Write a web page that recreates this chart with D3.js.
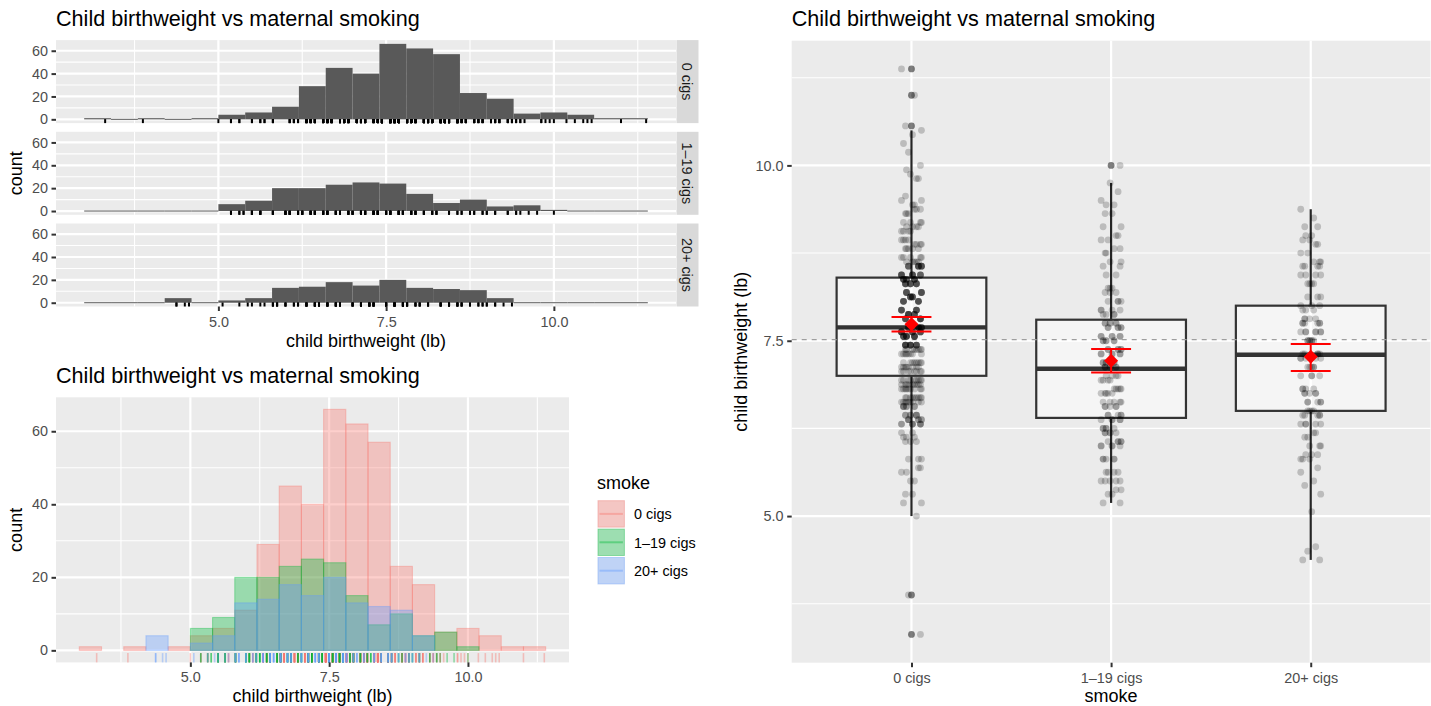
<!DOCTYPE html>
<html>
<head>
<meta charset="utf-8">
<script src="https://cdn.jsdelivr.net/npm/d3@7"></script>
<style>
  body { margin: 0; background: #fff; }
  svg text { font-family: "Liberation Sans", Arial, Helvetica, sans-serif; }
</style>
</head>
<body>
<svg id="chart" width="1431" height="706"></svg>
<script>
// ---- data ----
var groups = ["0 cigs", "1\u201319 cigs", "20+ cigs"];
var groupColors = ["#F8766D", "#00BA38", "#619CFF"];

// histogram bins: 3.0 .. 11.4 lb, width 0.4 (right closed)
var binStart = 3.0, binWidth = 0.4;
var countsNone  = [1, 0, 1, 0, 1, 4, 6, 11, 29, 45, 40, 66, 62, 57, 23, 18, 5, 6, 4, 1, 1];
var countsLight = [0, 0, 0, 0, 0, 6, 9, 20, 20, 23, 25, 24, 15, 7, 10, 4, 5, 1, 0, 0, 0];
var countsHeavy = [0, 0, 0, 4, 0, 2, 4, 13, 14, 18, 15, 20, 13, 12, 11, 4, 0, 0, 0, 0, 0];

// distinct birthweights (ounces) seen in the rugs
var rugNone = [53, 62, 80, 83, 85, 88, 90, 91, 93, 97, 98, 99, 101, 102, 103, 105, 106, 107,
  109, 110, 111, 113, 114, 115, 117, 118, 119, 121, 122, 123, 125, 126, 127, 129, 130, 131,
  133, 134, 135, 137, 138, 139, 141, 142, 143, 145, 146, 147, 149, 150, 151, 152, 153,
  157, 158, 159, 160, 163, 165, 167, 168, 169, 176, 182];
var rugLight = [83, 85, 86, 88, 90, 93, 96, 97, 99, 100, 102, 103, 105, 106, 108, 109, 111,
  112, 114, 115, 117, 118, 120, 121, 123, 124, 126, 127, 129, 131, 132, 135, 137, 138, 140,
  141, 143, 144, 146, 149, 151, 152, 154, 156, 160];
var rugHeavy = [70, 72, 73, 81, 85, 87, 88, 90, 91, 93, 94, 96, 98, 99, 101, 103, 104, 106,
  108, 109, 112, 114, 116, 117, 120, 122, 124, 125, 127, 128, 130, 133, 135, 137, 138, 140,
  142, 143, 144, 146, 148, 150];

// boxplot + mean summaries (lb)
var boxLower  = [5.0, 5.1875, 4.375];
var boxQ1     = [7.0, 6.4, 6.5];
var boxMedian = [7.69, 7.1, 7.3];
var boxQ3     = [8.4, 7.8, 8.0];
var boxUpper  = [10.5, 9.75, 9.375];
var meanValue = [7.735, 7.213, 7.27];
var meanLow   = [7.63, 7.047, 7.07];
var meanHigh  = [7.84, 7.381, 7.453];
var grandMean = 7.516;

var xMajor = [5, 7.5, 10], xMinor = [3.75, 6.25, 8.75, 11.25];
var countMajor = [0, 20, 40, 60], countMinor = [10, 30, 50];
var wtMajor = [5, 7.5, 10], wtMinor = [3.75, 6.25, 8.75, 11.25];

var title = "Child birthweight vs maternal smoking";
var xTitle = "child birthweight (lb)";

// ---- helpers ----
var svg = d3.select("#chart");
var FONT = '"Liberation Sans", Arial, Helvetica, sans-serif';

function expandPoints(rugOz, counts) {
	// spread each bin's count over the distinct values that fall in it
	var pts = [];
	counts.forEach(function(c, i) {
		var lo = (binStart + i * binWidth) * 16, hi = lo + binWidth * 16;
		var vals = rugOz.filter(function(o) { return o > lo + 1e-6 && o <= hi + 1e-6; });
		for (var k = 0; k < c; k++) pts.push(vals[k % vals.length] / 16);
	});
	return pts;
}

function panel(g, x0, x1, y0, y1) {
	g.append("rect")
		.attr("x", x0).attr("y", y0)
		.attr("width", x1 - x0).attr("height", y1 - y0)
		.attr("fill", "#EBEBEB");
}

function vGrid(g, xs, vals, w, y0, y1) {
	vals.forEach(function(v) {
		g.append("line")
			.attr("x1", xs(v)).attr("x2", xs(v))
			.attr("y1", y0).attr("y2", y1)
			.attr("stroke", "#fff").attr("stroke-width", w);
	});
}

function hGrid(g, ys, vals, w, x0, x1) {
	vals.forEach(function(v) {
		g.append("line")
			.attr("x1", x0).attr("x2", x1)
			.attr("y1", ys(v)).attr("y2", ys(v))
			.attr("stroke", "#fff").attr("stroke-width", w);
	});
}

function styleAxis(a) {
	a.attr("font-family", FONT).attr("font-size", 14.4);
	a.select(".domain").remove();
	a.selectAll(".tick line").attr("stroke", "#333333").attr("stroke-width", 2);
	a.selectAll(".tick text").attr("fill", "#4D4D4D");
}

function label(str, x, y, size, opts) {
	opts = opts || {};
	var t = svg.append("text")
		.attr("x", x).attr("y", y)
		.attr("font-size", size)
		.attr("fill", opts.fill || "#000")
		.attr("text-anchor", opts.anchor || "start")
		.text(str);
	if (opts.rotate) t.attr("transform", "rotate(" + opts.rotate + "," + x + "," + y + ")");
	return t;
}

var counts = [countsNone, countsLight, countsHeavy];
var rugs = [rugNone, rugLight, rugHeavy];
var groupPoints = counts.map(function(c, i) { return expandPoints(rugs[i], c); });

var xLo = binStart, xHi = binStart + countsNone.length * binWidth;
var xPad = (xHi - xLo) * 0.05;
var cMax = d3.max(counts, function(c) { return d3.max(c); });
var cPad = cMax * 0.05;

// ---- top left: faceted histograms ----
var tL = 56, tR = 676, facetH = 83;
var facetTops = [40.1, 131.8, 223.5];
var topX = d3.scaleLinear().domain([xLo - xPad, xHi + xPad]).range([tL, tR]);
var facetPlot = svg.append("g");

facetTops.forEach(function(ft, i) {
	var fb = ft + facetH;
	var fy = d3.scaleLinear().domain([-cPad, cMax + cPad]).range([fb, ft]);
	panel(facetPlot, tL, tR, ft, fb);
	hGrid(facetPlot, fy, countMinor, 1.1, tL, tR);
	vGrid(facetPlot, topX, xMinor, 1.1, ft, fb);
	hGrid(facetPlot, fy, countMajor, 2.2, tL, tR);
	vGrid(facetPlot, topX, xMajor, 2.2, ft, fb);

	var bw = topX(binWidth) - topX(0);
	facetPlot.append("g").selectAll("rect")
		.data(counts[i])
		.enter().append("rect")
		.attr("x", function(d, j) { return topX(binStart + j * binWidth); })
		.attr("width", bw)
		.attr("y", function(d) { return Math.min(fy(d), fy(0) - 0.5); })
		.attr("height", function(d) { return Math.max(fy(0) - fy(d), 1); })
		.attr("fill", "#595959");

	facetPlot.append("g").selectAll("line")
		.data(groupPoints[i])
		.enter().append("line")
		.attr("x1", function(d) { return topX(d); })
		.attr("x2", function(d) { return topX(d); })
		.attr("y1", fb).attr("y2", fb - 4)
		.attr("stroke", "#000").attr("stroke-width", 2);

	// strip
	facetPlot.append("rect")
		.attr("x", 676.5).attr("y", ft)
		.attr("width", 22).attr("height", facetH)
		.attr("fill", "#D9D9D9");
	label(groups[i], 682.3, ft + facetH / 2, 14.4, { anchor: "middle", rotate: 90, fill: "#1A1A1A" });

	var ya = facetPlot.append("g")
		.attr("transform", "translate(" + tL + ",0)")
		.call(d3.axisLeft(fy).tickValues(countMajor).tickSize(4.5).tickPadding(3.6).tickFormat(d3.format("d")));
	styleAxis(ya);

	if (i == facetTops.length - 1) {
		var xa = facetPlot.append("g")
			.attr("transform", "translate(0," + fb + ")")
			.call(d3.axisBottom(topX).tickValues(xMajor).tickSize(4.5).tickPadding(5.3).tickFormat(d3.format(".1f")));
		styleAxis(xa);
	}
});
label(title, tL, 25.5, 21.6);
label(xTitle, (tL + tR) / 2, 346.5, 18, { anchor: "middle" });
label("count", 22.5, (facetTops[0] + facetTops[2] + facetH) / 2, 18, { anchor: "middle", rotate: -90 });

// ---- bottom left: overlapping histograms ----
var bL = 56, bR = 569, bT = 397.3, bB = 662.4;
var botX = d3.scaleLinear().domain([xLo - xPad, xHi + xPad]).range([bL, bR]);
var botY = d3.scaleLinear().domain([-cPad, cMax + cPad]).range([bB, bT]);
var bot = svg.append("g");
panel(bot, bL, bR, bT, bB);
hGrid(bot, botY, countMinor, 1.1, bL, bR);
vGrid(bot, botX, xMinor, 1.1, bT, bB);
hGrid(bot, botY, countMajor, 2.2, bL, bR);
vGrid(bot, botX, xMajor, 2.2, bT, bB);

counts.forEach(function(c, i) {
	var bw = botX(binWidth) - botX(0);
	bot.append("g").selectAll("rect")
		.data(c)
		.enter().append("rect")
		.attr("x", function(d, j) { return botX(binStart + j * binWidth); })
		.attr("width", bw)
		.attr("y", function(d) { return botY(d); })
		.attr("height", function(d) { return botY(0) - botY(d); })
		.attr("fill", groupColors[i]).attr("fill-opacity", 0.35)
		.attr("stroke", groupColors[i]).attr("stroke-opacity", 0.35)
		.attr("stroke-width", 1.1);
});
counts.forEach(function(c, i) {
	bot.append("g").selectAll("line")
		.data(groupPoints[i])
		.enter().append("line")
		.attr("x1", function(d) { return botX(d); })
		.attr("x2", function(d) { return botX(d); })
		.attr("y1", bB).attr("y2", bB - 9.3)
		.attr("stroke", groupColors[i]).attr("stroke-opacity", 0.4)
		.attr("stroke-width", 1.6);
});

var bya = bot.append("g")
	.attr("transform", "translate(" + bL + ",0)")
	.call(d3.axisLeft(botY).tickValues(countMajor).tickSize(4.5).tickPadding(3.6).tickFormat(d3.format("d")));
styleAxis(bya);
var bxa = bot.append("g")
	.attr("transform", "translate(0," + bB + ")")
	.call(d3.axisBottom(botX).tickValues(xMajor).tickSize(4.5).tickPadding(5.3).tickFormat(d3.format(".1f")));
styleAxis(bxa);
label(title, bL, 382.7, 21.6);
label(xTitle, (bL + bR) / 2, 701.5, 18, { anchor: "middle" });
label("count", 22.5, (bT + bB) / 2, 18, { anchor: "middle", rotate: -90 });

// legend
label("smoke", 597, 489, 18);
var keySize = 28.4, keyTop = 500.2, keyX = 597.5;
groups.forEach(function(name, i) {
	var ky = keyTop + i * keySize;
	bot.append("rect")
		.attr("x", keyX).attr("y", ky)
		.attr("width", keySize - 1).attr("height", keySize - 1)
		.attr("fill", "#F2F2F2");
	bot.append("rect")
		.attr("x", keyX + 0.5).attr("y", ky + 0.5)
		.attr("width", keySize - 2).attr("height", keySize - 2)
		.attr("fill", groupColors[i]).attr("fill-opacity", 0.35)
		.attr("stroke", groupColors[i]).attr("stroke-opacity", 0.35);
	bot.append("line")
		.attr("x1", keyX + 2).attr("x2", keyX + keySize - 3)
		.attr("y1", ky + keySize / 2 - 0.5).attr("y2", ky + keySize / 2 - 0.5)
		.attr("stroke", groupColors[i]).attr("stroke-opacity", 0.4)
		.attr("stroke-width", 2);
	label(name, 634, ky + keySize / 2 + 4.7, 14.4, { fill: "#000" });
});

// ---- right: boxplots with jitter ----
var rL = 791.7, rR = 1430.5, rT = 40.7, rB = 662.7;
var allPts = [].concat.apply([], groupPoints);
var wLo = d3.min(allPts), wHi = d3.max(allPts), wPad = (wHi - wLo) * 0.05;
var rX = d3.scalePoint().domain(groups).range([rL, rR]).padding(0.6);
var rY = d3.scaleLinear().domain([wLo - wPad, wHi + wPad]).range([rB, rT]);
var step = rX.step();
var boxPlot = svg.append("g");
panel(boxPlot, rL, rR, rT, rB);
hGrid(boxPlot, rY, wtMinor, 1.1, rL, rR);
hGrid(boxPlot, rY, wtMajor, 2.2, rL, rR);
groups.forEach(function(name) {
	boxPlot.append("line")
		.attr("x1", rX(name)).attr("x2", rX(name)).attr("y1", rT).attr("y2", rB)
		.attr("stroke", "#fff").attr("stroke-width", 2.2);
});

var boxW = 0.75 * step;
groups.forEach(function(name, i) {
	var cx = rX(name);
	boxPlot.append("line")
		.attr("x1", cx).attr("x2", cx)
		.attr("y1", rY(boxUpper[i])).attr("y2", rY(boxQ3[i]))
		.attr("stroke", "#262626").attr("stroke-width", 2.2);
	boxPlot.append("line")
		.attr("x1", cx).attr("x2", cx)
		.attr("y1", rY(boxQ1[i])).attr("y2", rY(boxLower[i]))
		.attr("stroke", "#262626").attr("stroke-width", 2.2);
	boxPlot.append("rect")
		.attr("x", cx - boxW / 2).attr("y", rY(boxQ3[i]))
		.attr("width", boxW).attr("height", rY(boxQ1[i]) - rY(boxQ3[i]))
		.attr("fill", "#fff").attr("fill-opacity", 0.5)
		.attr("stroke", "#333333").attr("stroke-width", 2.2);
	boxPlot.append("line")
		.attr("x1", cx - boxW / 2).attr("x2", cx + boxW / 2)
		.attr("y1", rY(boxMedian[i])).attr("y2", rY(boxMedian[i]))
		.attr("stroke", "#333333").attr("stroke-width", 4.4);
	var outliers = groupPoints[i].filter(function(v) { return v > boxUpper[i] || v < boxLower[i]; });
	boxPlot.append("g").selectAll("circle")
		.data(outliers)
		.enter().append("circle")
		.attr("cx", cx).attr("cy", function(d) { return rY(d); })
		.attr("r", 3.4)
		.attr("fill", "#000").attr("fill-opacity", 0.5);
});

boxPlot.append("line")
	.attr("x1", rL).attr("x2", rR)
	.attr("y1", rY(grandMean)).attr("y2", rY(grandMean))
	.attr("stroke", "#9E9E9E").attr("stroke-width", 1.3)
	.attr("stroke-dasharray", "5,5");

// fixed jitter offsets (fraction of 0.05 category widths)
var jitterSteps = [0.9, -0.3, 0.5, -0.8, 0.1, 1, -0.6, 0.3, -1, 0.7, -0.1, -0.5];
groups.forEach(function(name, i) {
	var cx = rX(name);
	boxPlot.append("g").selectAll("circle")
		.data(groupPoints[i])
		.enter().append("circle")
		.attr("cx", function(d, k) { return cx + jitterSteps[k % jitterSteps.length] * 0.05 * step; })
		.attr("cy", function(d) { return rY(d); })
		.attr("r", 3.4)
		.attr("fill", "#000").attr("fill-opacity", 0.2);
});

groups.forEach(function(name, i) {
	var cx = rX(name), cap = 0.1 * step;
	var eb = boxPlot.append("g").attr("stroke", "#FF0000").attr("stroke-width", 2);
	eb.append("line").attr("x1", cx).attr("x2", cx).attr("y1", rY(meanHigh[i])).attr("y2", rY(meanLow[i]));
	eb.append("line").attr("x1", cx - cap).attr("x2", cx + cap).attr("y1", rY(meanHigh[i])).attr("y2", rY(meanHigh[i]));
	eb.append("line").attr("x1", cx - cap).attr("x2", cx + cap).attr("y1", rY(meanLow[i])).attr("y2", rY(meanLow[i]));
	var my = rY(meanValue[i]), s = 7;
	boxPlot.append("path")
		.attr("d", "M" + cx + "," + (my - s) + "L" + (cx + s) + "," + my + "L" + cx + "," + (my + s) + "L" + (cx - s) + "," + my + "Z")
		.attr("fill", "#FF0000");
});

var rya = boxPlot.append("g")
	.attr("transform", "translate(" + rL + ",0)")
	.call(d3.axisLeft(rY).tickValues(wtMajor).tickSize(4.5).tickPadding(3.6).tickFormat(d3.format(".1f")));
styleAxis(rya);
var rxa = boxPlot.append("g")
	.attr("transform", "translate(0," + rB + ")")
	.call(d3.axisBottom(rX).tickSize(4.5).tickPadding(5.3));
styleAxis(rxa);
label(title, rL, 25.5, 21.6);
label("smoke", (rL + rR) / 2, 702, 18, { anchor: "middle" });
label("child birthweight (lb)", 747, (rT + rB) / 2, 18, { anchor: "middle", rotate: -90 });
</script>
</body>
</html>
